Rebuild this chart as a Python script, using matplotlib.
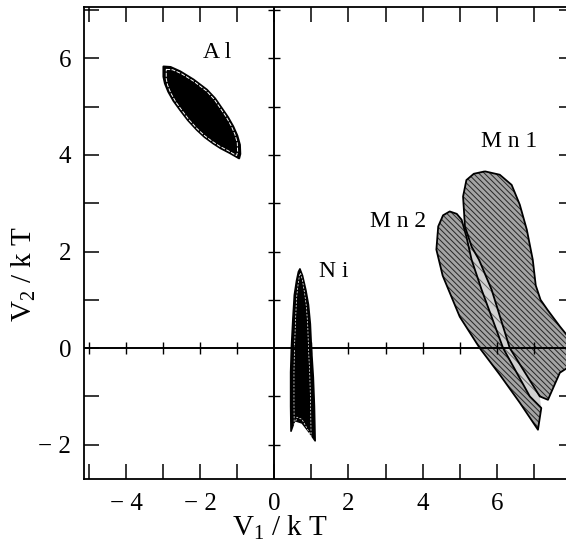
import matplotlib.pyplot as plt
import numpy as np
from matplotlib.ticker import MultipleLocator, FuncFormatter

plt.rcParams['font.family'] = ['Liberation Serif', 'DejaVu Serif']
plt.rcParams['mathtext.fontset'] = 'custom'
plt.rcParams['mathtext.rm'] = 'Liberation Serif'
plt.rcParams['mathtext.it'] = 'Liberation Serif'
plt.rcParams['hatch.linewidth'] = 0.7

# region outlines (V1/kT, V2/kT)
al_x = [-2.99, -2.80, -2.54, -2.18, -1.82, -1.60, -1.42, -1.25, -1.11, -1.00, -0.93, -0.92, -0.95,
        -1.20, -1.45, -1.65, -1.88, -2.09, -2.33, -2.54, -2.72, -2.86, -2.95, -2.99]
al_y = [5.83, 5.82, 5.73, 5.56, 5.35, 5.17, 4.97, 4.78, 4.59, 4.40, 4.21, 4.02, 3.93,
        4.04, 4.14, 4.24, 4.37, 4.52, 4.72, 4.93, 5.12, 5.31, 5.48, 5.62]

ni_x = [0.69, 0.76, 0.85, 0.92, 0.97, 1.00, 1.05, 1.08, 1.10, 0.95, 0.75, 0.55, 0.45,
        0.44, 0.44, 0.46, 0.50, 0.54, 0.60, 0.65]
ni_y = [1.64, 1.50, 1.20, 0.90, 0.50, 0.00, -0.60, -1.20, -1.92, -1.75, -1.55, -1.50, -1.72,
        -1.20, -0.50, 0.00, 0.60, 1.10, 1.40, 1.58]

mn1_x = [5.68, 6.08, 6.40, 6.62, 6.81, 6.97, 7.05, 7.18, 7.37, 7.70, 8.10, 8.24, 7.70, 7.38,
         7.16, 6.35, 5.86, 5.52, 5.32, 5.14, 5.09, 5.18, 5.38]
mn1_y = [3.66, 3.59, 3.38, 2.97, 2.45, 1.83, 1.30, 1.00, 0.79, 0.45, 0.07, -0.24, -0.51, -1.07,
         -1.00, 0.00, 1.21, 1.83, 2.10, 2.52, 3.14, 3.48, 3.61]

mn2_x = [4.73, 4.55, 4.42, 4.37, 4.54, 5.00, 5.54, 6.08, 6.62, 7.11,
         7.20, 6.89, 6.17, 5.59, 5.32, 5.18, 5.05, 4.92]
mn2_y = [2.83, 2.75, 2.52, 2.04, 1.50, 0.65, 0.00, -0.55, -1.13, -1.69,
         -1.24, -1.00, 0.00, 1.21, 1.83, 2.31, 2.66, 2.78]

labels = ['A l', 'N i', 'M n 2', 'M n 1']
label_x = [-1.55, 1.61, 3.33, 6.32]
label_y = [6.13, 1.58, 2.62, 4.27]

fig = plt.figure(figsize=(5.66, 5.56), dpi=100)
ax = fig.add_axes([0.148, 0.1385, 0.866, 0.8495])

def inner(xs, ys, fx, fy):
    xs = np.array(xs); ys = np.array(ys)
    cx, cy = xs.mean(), ys.mean()
    return cx + (xs - cx) * fx, cy + (ys - cy) * fy

# narrow strip between the two Mn regions (Mn2 right edge + Mn1 left edge)
strip_x = mn2_x[10:17] + mn1_x[14:20][::-1]
strip_y = mn2_y[10:17] + mn1_y[14:20][::-1]
ax.fill(strip_x, strip_y, facecolor='#d2d2d2', edgecolor='#666666', hatch='\\\\\\', lw=0, zorder=2)

# Mn regions: grey hatched
for mx, my in [(mn2_x, mn2_y), (mn1_x, mn1_y)]:
    ax.fill(mx, my, facecolor='#a4a4a4', edgecolor='#262626', hatch='\\\\\\\\\\\\', lw=0, zorder=2)
for mx, my in [(mn2_x, mn2_y), (mn1_x, mn1_y)]:
    ax.fill(mx, my, fill=False, edgecolor='black', lw=1.3, joinstyle='round', zorder=3)

# Al and Ni: black
ax.fill(al_x, al_y, color='black', lw=1.5, joinstyle='round', zorder=3)
ix, iy = inner(al_x, al_y, 0.93, 0.94)
ax.fill(ix, iy, fill=False, edgecolor='white', lw=0.7, ls=(0, (4, 1.5)), zorder=4)
ax.fill(ni_x, ni_y, color='black', lw=1.2, joinstyle='round', zorder=3)
ix, iy = inner(ni_x, ni_y, 0.7, 0.95)
ax.fill(ix, iy, fill=False, edgecolor='white', lw=0.5, ls=(0, (3, 2)), zorder=4)

for s, x, y in zip(labels, label_x, label_y):
    ax.text(x, y, s, fontsize=17, ha='center', va='center', zorder=5)

# zero lines with small crossing ticks
ax.axhline(0, color='black', lw=1.4, zorder=4)
ax.axvline(0, color='black', lw=1.4, zorder=4)
xt = np.arange(-5, 9)
yt = np.arange(-2, 8)
ax.plot(xt[xt != 0], np.zeros(len(xt) - 1), ls='none', marker='|', ms=9, mew=1, color='black', zorder=4)
ax.plot(np.zeros(len(yt) - 1), yt[yt != 0], ls='none', marker='_', ms=9, mew=1, color='black', zorder=4)

ax.set_xlim(-5.14, 8.08)
ax.set_ylim(-2.71, 7.07)

def fmt_tick(v, p):
    if v > 7:
        return ''
    return ('\u2212 %d' % -v) if v < 0 else '%d' % v

fmt = FuncFormatter(fmt_tick)
ax.xaxis.set_major_locator(MultipleLocator(2))
ax.xaxis.set_minor_locator(MultipleLocator(1))
ax.yaxis.set_major_locator(MultipleLocator(2))
ax.yaxis.set_minor_locator(MultipleLocator(1))
ax.xaxis.set_major_formatter(fmt)
ax.yaxis.set_major_formatter(fmt)
ax.tick_params(which='both', direction='in', top=True, right=True, length=11, width=1.1,
               labelsize=18)
ax.tick_params(axis='x', pad=10)
ax.tick_params(axis='y', pad=9)
for sp in ax.spines.values():
    sp.set_linewidth(1.3)

fig.text(280 / 566, 1 - 528 / 556, r'V$_{1}$ / k T', fontsize=21, ha='center', va='center')
fig.text(24 / 566, 1 - 274 / 556, r'V$_{2}$ / k T', fontsize=21, ha='center', va='center',
         rotation=90)

fig.savefig('out.png', dpi=100)
